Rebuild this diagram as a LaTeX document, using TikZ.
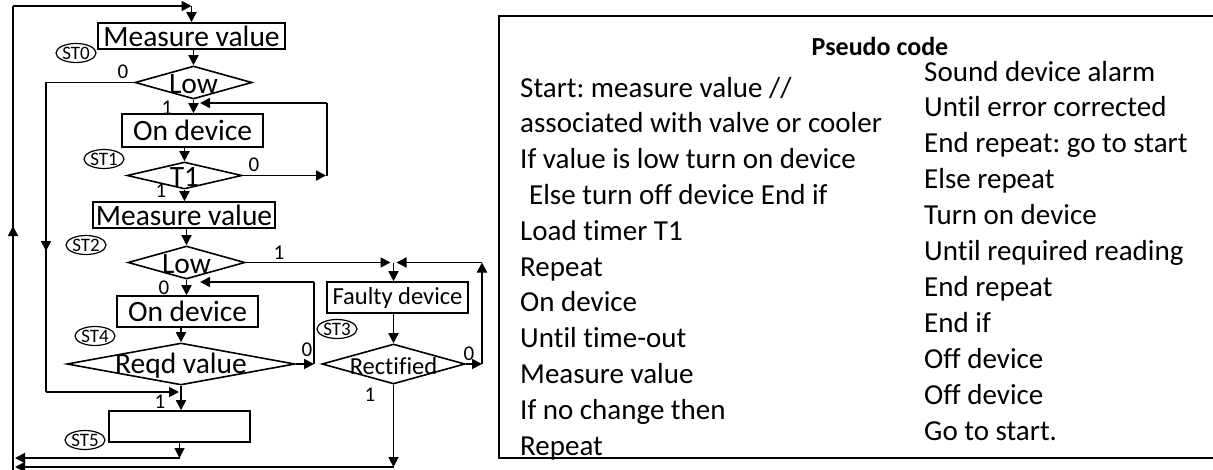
\documentclass[tikz,border=0pt]{standalone}
\usepackage{fontspec}
\setmainfont{Carlito}[Ligatures=NoCommon]
\usetikzlibrary{arrows.meta,shapes.geometric}
\frenchspacing
\begin{document}
\begin{tikzpicture}[x=1pt,y=-1pt,
  ln/.style={line width=1.8pt},
  arr/.style={ln,-{Triangle[length=10pt,width=10pt]}},
  box/.style={draw,line width=1.6pt,rectangle,inner sep=0pt},
  dia/.style={draw,line width=1.6pt,diamond,inner sep=0pt},
  tag/.style={draw,line width=1.2pt,ellipse,inner sep=0pt,minimum width=40pt,minimum height=19pt,font=\fontsize{19}{19}\selectfont},
  num/.style={inner sep=0pt,font=\fontsize{21}{21}\selectfont},
  big/.style={font=\fontsize{29.5}{29.5}\selectfont},
  mid/.style={font=\fontsize{24.5}{24.5}\selectfont},
  inlab/.style={inner sep=0pt,yshift=-2pt},
  code/.style={inner sep=0pt,anchor=base west,font=\fontsize{29}{29}\selectfont}]
\useasboundingbox (0,0) rectangle (1213,469);
\clip (0,0) rectangle (1213,469);

% ---- flowchart blocks ----
\node[box,big,minimum width=187pt,minimum height=26pt] (mv1) at (191.5,36) {Measure value};
\node[tag] (st0) at (76,53) {ST0};
\node[dia,minimum width=117pt,minimum height=33pt,label={[big,inlab]center:Low}] (low1) at (193.5,82.5) {};
\node[box,big,minimum width=141pt,minimum height=33pt] (ond1) at (192.5,130.5) {On device};
\node[tag] (st1) at (104,159) {ST1};
\node[dia,minimum width=115pt,minimum height=27pt,label={[big,inlab]center:T1}] (t1) at (184.5,175.5) {};
\node[box,big,minimum width=182pt,minimum height=26pt] (mv2) at (184,215) {Measure value};
\node[tag] (st2) at (86,245) {ST2};
\node[dia,minimum width=117pt,minimum height=33pt,label={[big,inlab]center:Low}] (low2) at (186.5,262.5) {};
\node[box,big,minimum width=141pt,minimum height=31pt] (ond2) at (187.5,311.5) {On device};
\node[tag] (st4) at (95,336) {ST4};
\node[dia,minimum width=228pt,minimum height=42pt,label={[big,inlab]center:Reqd value}] (reqd) at (181,364) {};
\node[box,minimum width=141pt,minimum height=31pt] (st5box) at (179.5,426.5) {};
\node[tag] (st5) at (85,440) {ST5};
\node[box,mid,minimum width=141pt,minimum height=31pt] (faulty) at (397.5,297.5) {Faulty device};
\node[tag] (st3) at (337,329) {ST3};
\node[dia,minimum width=143pt,minimum height=40pt,label={[mid,inlab]center:Rectified}] (rect) at (393.5,364) {};

% ---- fixed corner points ----
\coordinate (tl) at (13,6);
\coordinate (tr) at (mv1.north |- tl);
\coordinate (bl1) at (15,458);
\coordinate (bl2) at (15,467);
\coordinate (lz) at (46,82.5);
\coordinate (lb) at (46,392);
\coordinate (lbe) at (179,392);
\coordinate (t1r) at (327,175.5);
\coordinate (t1rt) at (327,103);
\coordinate (fb1) at (200,103);
\coordinate (rq) at (314,364);
\coordinate (rqt) at (314,282);
\coordinate (fb2) at (200,282);
\coordinate (fj) at (rect.north |- low2.east);
\coordinate (rr) at (482,364);
\coordinate (rrt) at (482,262.5);

% ---- main loop back to start ----
\draw[ln] (13,472) -- (tl);
\draw[arr] (13,250) -- (13,226);
\draw[arr] (tl) -- (tr);
\draw[arr] (tr) -- (mv1.north);

% ---- connectors ----
\draw[arr] (low1.north |- mv1.south) -- (low1.north);
\draw[arr] (low1.south) -- (low1.south |- ond1.north);
\node[num] (n1) at (167,108) {1};
\draw[ln] (low1.west) -- (lz) -- (lb);
\draw[arr] (lb) -- (lbe);
\draw[arr] (46,236) -- (46,251);
\node[num] (n2) at (123,72) {0};

\draw[arr] (t1.north |- ond1.south) -- (t1.north);
\draw[arr] (t1.east) -- ([xshift=-1pt]t1r);
\draw[ln] (t1r) -- (t1rt);
\draw[arr] (t1rt) -- (fb1);
\node[num] (n3) at (254,165) {0};

\draw[arr] (t1.south) -- (t1.south |- mv2.north);
\node[num] (n4) at (161,191) {1};

\draw[arr] (low2.north |- mv2.south) -- (low2.north);
\draw[arr] (low2.south) -- (low2.south |- ond2.north);
\node[num] (n5) at (164,288) {0};
\draw[arr] (low2.east) -- ([xshift=-3pt]fj);
\node[num] (n6) at (279,253) {1};

\draw[arr] (reqd.north |- ond2.south) -- (reqd.north);
\draw[arr] (reqd.east) -- (rq);
\draw[ln] (rq) -- (rqt);
\draw[arr] (rqt) -- (fb2);
\node[num] (n7) at (307,350) {0};

\draw[arr] (reqd.south) -- (reqd.south |- st5box.north);
\node[num] (n8) at (160,402) {1};
\draw[arr] (st5box.south) -- (st5box.south |- bl1);
\draw[arr] (st5box.south |- bl1) -- (bl1);

\draw[arr] (fj) -- (fj |- faulty.north);
\draw[arr] (rect.north |- faulty.south) -- (rect.north);
\draw[arr] (rect.east) -- (rr);
\draw[arr] (rr) -- (rrt);
\draw[arr] (rrt) -- ([xshift=3pt]fj);
\node[num] (n9) at (469,354) {0};

\draw[arr] (rect.south) -- (rect.south |- bl2);
\draw[arr] (rect.south |- bl2) -- (bl2);
\node[num] (n10) at (370,395) {1};

% ---- pseudo code panel ----
\draw[line width=1.6pt] (1216,16) -- (499,16) -- (499,458) -- (1216,458);
\node[code,anchor=base,font=\fontsize{26}{26}\selectfont\bfseries] (title) at (880,55) {Pseudo code};
\foreach \t [count=\i] in {Start: measure value //,
  associated with valve or cooler,
  If value is low turn on device,
  \hspace*{9pt}Else turn off device End if,
  Load timer T1,
  Repeat,
  On device,
  Until time-out,
  Measure value,
  If no change then,
  Repeat}
  \node[code] (L\i) at (520,{97+35.8*(\i-1)}) {\t};
\foreach \t [count=\i] in {Sound device alarm,
  Until error corrected,
  End repeat: go to start,
  Else repeat,
  Turn on device,
  Until required reading,
  End repeat,
  End if,
  Off device,
  Off device,
  Go to start.}
  \node[code] (R\i) at (924,{81+35.9*(\i-1)}) {\t};
\end{tikzpicture}
\end{document}
